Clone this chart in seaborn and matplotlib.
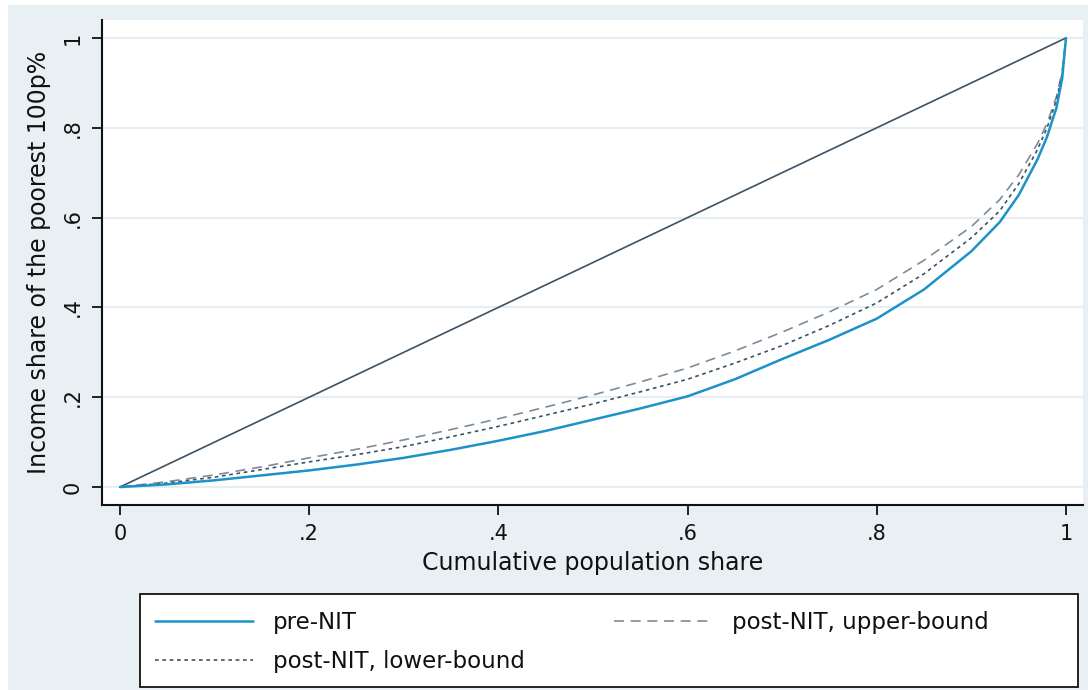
import numpy as np
import pandas as pd
import matplotlib
matplotlib.use("Agg")
import matplotlib.pyplot as plt
from matplotlib.patches import Rectangle
from matplotlib.lines import Line2D
import seaborn as sns

# ---- data ----
pop_share = [0.0, 0.05, 0.10, 0.15, 0.20, 0.25, 0.30, 0.35, 0.40, 0.45, 0.50,
             0.55, 0.60, 0.65, 0.70, 0.75, 0.80, 0.85, 0.90, 0.93, 0.95,
             0.97, 0.98, 0.99, 0.996, 1.0]
pre_nit = [0.0, 0.006, 0.015, 0.026, 0.037, 0.050, 0.065, 0.083, 0.103, 0.125, 0.150,
           0.175, 0.202, 0.240, 0.285, 0.328, 0.375, 0.440, 0.525, 0.590, 0.650,
           0.730, 0.780, 0.845, 0.910, 1.0]
post_upper = [0.0, 0.012, 0.027, 0.045, 0.065, 0.084, 0.105, 0.128, 0.152, 0.178, 0.205,
              0.234, 0.265, 0.303, 0.345, 0.390, 0.440, 0.505, 0.580, 0.640, 0.695,
              0.765, 0.810, 0.870, 0.925, 1.0]
post_lower = [0.0, 0.009, 0.022, 0.039, 0.056, 0.072, 0.090, 0.112, 0.135, 0.160, 0.185,
              0.212, 0.240, 0.276, 0.315, 0.360, 0.410, 0.475, 0.555, 0.615, 0.675,
              0.752, 0.800, 0.862, 0.920, 1.0]
equality = [0.0, 1.0]
equality_x = [0.0, 1.0]

x_ticks = [0, 0.2, 0.4, 0.6, 0.8, 1.0]
x_tick_labels = ["0", ".2", ".4", ".6", ".8", "1"]
y_ticks = [0, 0.2, 0.4, 0.6, 0.8, 1.0]
y_tick_labels = ["0", ".2", ".4", ".6", ".8", "1"]

labels = ["pre-NIT", "post-NIT, upper-bound", "post-NIT, lower-bound"]

# ---- style ----
sns.set_theme(style="white")
plt.rcParams["font.family"] = ["DejaVu Sans"]

BG = "#e9f0f3"
BLUE = "#1b93c8"
SLATE = "#3d5264"
GRAY = "#7b8c9c"
GRID = "#e6eef1"

fig = plt.figure(figsize=(10.88, 6.90), dpi=100, facecolor="white")
fig.patches.append(Rectangle((8 / 1088, 0), 1 - 8 / 1088, 1 - 5 / 690,
                             transform=fig.transFigure, facecolor=BG,
                             edgecolor="none", zorder=-10))

ax = fig.add_axes([101.7 / 1088, 1 - 505 / 690, (1083 - 101.7) / 1088, (505 - 20) / 690])
ax.set_facecolor("white")

df = pd.DataFrame({"p": pop_share, "pre": pre_nit, "up": post_upper, "lo": post_lower})
eq = pd.DataFrame({"p": equality_x, "eq": equality})

sns.lineplot(data=eq, x="p", y="eq", ax=ax, color=SLATE, lw=1.2, zorder=3)
sns.lineplot(data=df, x="p", y="up", ax=ax, color=GRAY, lw=1.2, zorder=3,
             linestyle=(0, (6, 4)))
sns.lineplot(data=df, x="p", y="lo", ax=ax, color=SLATE, lw=1.2, zorder=3,
             linestyle=(0, (2.2, 2.2)))
sns.lineplot(data=df, x="p", y="pre", ax=ax, color=BLUE, lw=1.8, zorder=4)

ax.set_xlim(-0.0193, 1.018)
ax.set_ylim(-0.040, 1.040)

ax.set_xticks(x_ticks)
ax.set_xticklabels(x_tick_labels, fontsize=15)
ax.set_yticks(y_ticks)
ax.set_yticklabels(y_tick_labels, fontsize=15, rotation=90, va="center")

ax.yaxis.grid(True, color=GRID, lw=1.5)
ax.xaxis.grid(False)
ax.set_axisbelow(True)

for s in ["top", "right"]:
    ax.spines[s].set_visible(False)
for s in ["left", "bottom"]:
    ax.spines[s].set_visible(True)
    ax.spines[s].set_color("#111111")
    ax.spines[s].set_linewidth(1.5)

ax.tick_params(axis="both", which="major", direction="out", length=7.5, width=1.3,
               color="#111111", labelcolor="#111111", pad=6,
               bottom=True, left=True)

ax.set_xlabel("Cumulative population share", fontsize=17, color="#111111", labelpad=5)
ax.set_ylabel("Income share of the poorest 100p%", fontsize=17, color="#111111", labelpad=8.5)

# ---- legend (Stata-style box below plot) ----
fig.patches.append(Rectangle((140 / 1088, 3 / 690), (1078 - 140) / 1088, (687 - 594) / 690,
                             transform=fig.transFigure, facecolor="white",
                             edgecolor="#111111", lw=1.3, zorder=1))

h_pre = Line2D([], [], color=BLUE, lw=1.8)
h_up = Line2D([], [], color=GRAY, lw=1.2, linestyle=(0, (6, 4)))
h_lo = Line2D([], [], color=SLATE, lw=1.2, linestyle=(0, (2.2, 2.2)))

leg = fig.legend([h_pre, h_lo, h_up], [labels[0], labels[2], labels[1]],
                 ncol=2, loc="upper left",
                 bbox_to_anchor=(150 / 1088, 1 - 606 / 690),
                 frameon=False, fontsize=16.5, handlelength=4.3,
                 handletextpad=0.85, columnspacing=3.9, labelspacing=0.7,
                 borderpad=0.2, borderaxespad=0)
for t in leg.get_texts():
    t.set_color("#111111")

fig.savefig("out.png", dpi=100, facecolor=fig.get_facecolor())
